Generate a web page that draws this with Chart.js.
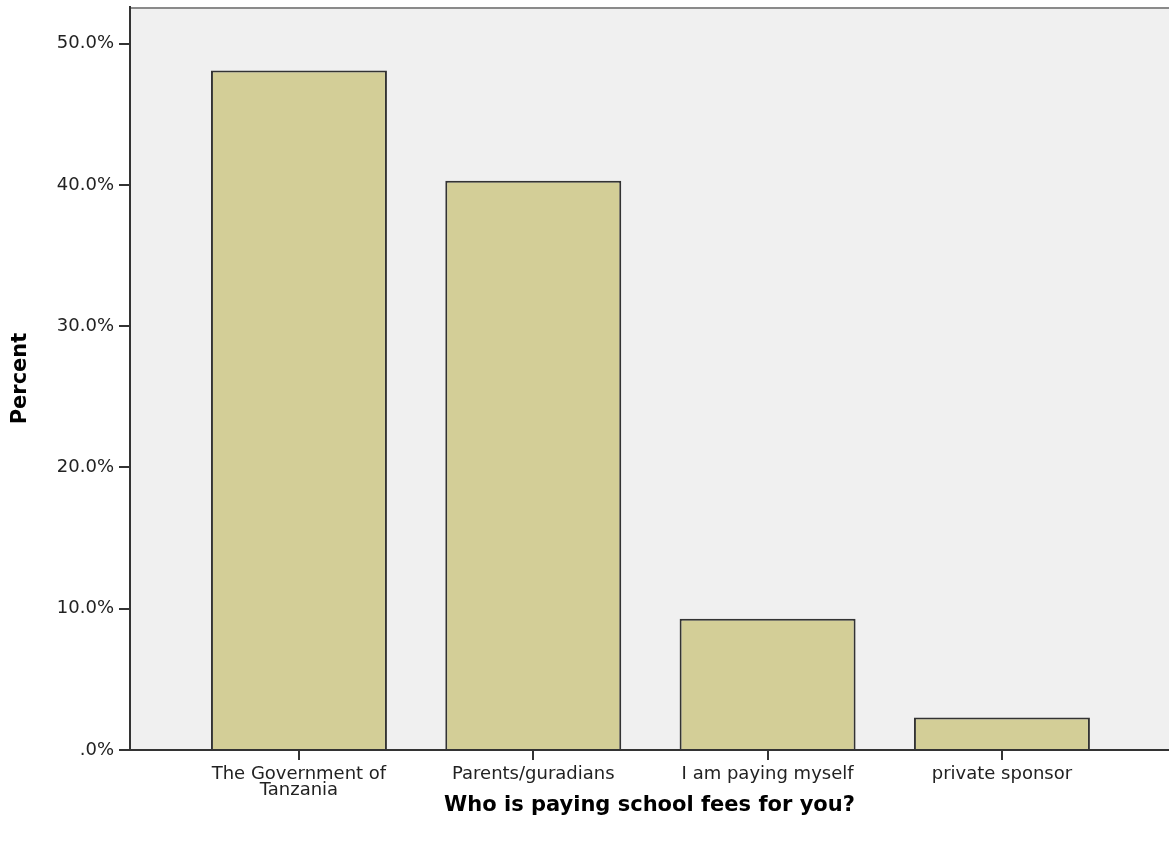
<!DOCTYPE html>
<html>
<head>
<meta charset="utf-8">
<script src="https://cdn.jsdelivr.net/npm/chart.js@4"></script>
<style>
  html, body { margin: 0; padding: 0; background: #ffffff; }
  #wrap { width: 1169px; height: 849px; }
</style>
</head>
<body>
<div id="wrap"><canvas id="cvs_grafico"></canvas></div>
<script>
// Dados
const categorias = [
  ["The Government of", "Tanzania"],
  "Parents/guradians",
  "I am paying myself",
  "private sponsor",
];
const percentuais = [48.1, 40.3, 9.3, 2.3];
const ticksY = [0, 10, 20, 30, 40, 50];

const grafico = document.getElementById("cvs_grafico");

// Fundo cinza da área do gráfico + borda superior
const fundoArea = {
  id: "fundoArea",
  beforeDraw(chart) {
    const { ctx, chartArea: a } = chart;
    ctx.save();
    ctx.fillStyle = "#f0f0f0";
    ctx.fillRect(a.left, a.top, a.right - a.left, a.bottom - a.top);
    ctx.strokeStyle = "#8a8a8a";
    ctx.lineWidth = 2;
    ctx.beginPath();
    ctx.moveTo(a.left, a.top + 1);
    ctx.lineTo(a.right, a.top + 1);
    ctx.stroke();
    ctx.restore();
  },
};

new Chart(grafico, {
  type: "bar",
  data: {
    datasets: [
      {
        label: "Percent",
        data: percentuais.map((v, i) => ({ x: i, y: v })),
        backgroundColor: "#d3ce97",
        borderColor: "#333",
        borderWidth: 2,
        categoryPercentage: 1,
        barPercentage: 0.751,
      },
    ],
  },
  options: {
    responsive: true,
    maintainAspectRatio: false,
    animation: false,
    layout: { padding: { top: 7, right: 0, left: 0, bottom: 0 } },
    plugins: {
      legend: { display: false },
      title: { display: false },
      tooltip: { enabled: false },
    },
    scales: {
      x: {
        type: "linear",
        offset: false,
        min: -0.721,
        max: 3.713,
        afterBuildTicks: (s) => {
          s.ticks = categorias.map((c, i) => ({ value: i }));
        },
        afterFit: (s) => {
          s.height = 99;
          s.paddingLeft = 0;
          s.paddingRight = 0;
        },
        ticks: {
          callback: (v) => categorias[v],
          color: "#222",
          font: { family: "DejaVu Sans", size: 18, lineHeight: 0.9 },
          padding: 6,
          maxRotation: 0,
          autoSkip: false,
        },
        grid: {
          offset: false,
          drawOnChartArea: false,
          drawTicks: true,
          tickLength: 10,
          tickColor: "#333",
          lineWidth: 2,
        },
        border: { color: "#333", width: 2 },
        title: {
          display: true,
          text: "Who is paying school fees for you?",
          color: "#000",
          font: { family: "DejaVu Sans", size: 21, weight: "bold" },
          padding: { top: 0, bottom: 31 },
        },
      },
      y: {
        min: 0,
        max: 52.6,
        afterBuildTicks: (s) => {
          s.ticks = ticksY.map((v) => ({ value: v }));
        },
        afterFit: (s) => {
          s.width = 130;
          s.paddingTop = 0;
          s.paddingBottom = 0;
        },
        ticks: {
          callback: (v) => (v === 0 ? ".0%" : v.toFixed(1) + "%"),
          color: "#222",
          font: { family: "DejaVu Sans", size: 18 },
          padding: 5,
        },
        grid: {
          drawOnChartArea: false,
          drawTicks: true,
          tickLength: 11,
          tickColor: "#333",
          lineWidth: 2,
        },
        border: { color: "#333", width: 2 },
        title: {
          display: true,
          text: "Percent",
          color: "#000",
          font: { family: "DejaVu Sans", size: 21, weight: "bold" },
          padding: { top: 8, bottom: 0 },
        },
      },
    },
  },
  plugins: [fundoArea],
});
</script>
</body>
</html>
